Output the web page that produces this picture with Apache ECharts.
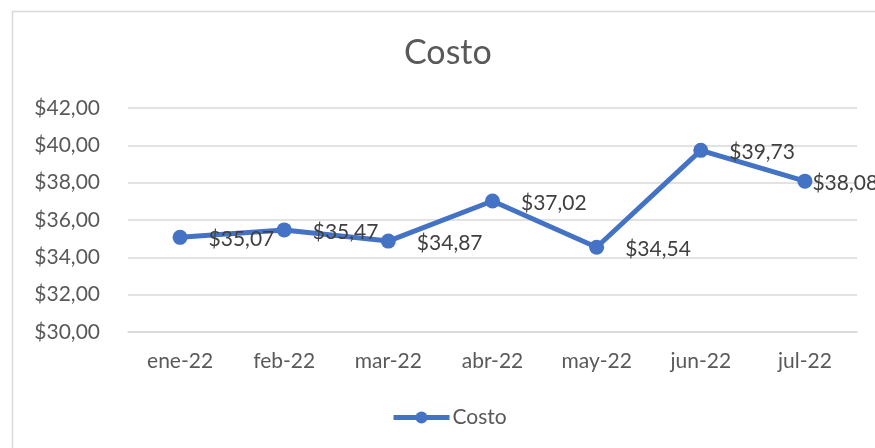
<!DOCTYPE html>
<html>
<head>
<meta charset="utf-8">
<script src="https://cdn.jsdelivr.net/npm/echarts@6/dist/echarts.min.js"></script>
<style>
  html, body { margin: 0; padding: 0; background: #fff; }
  #chart { width: 875px; height: 448px; }
</style>
</head>
<body>
<div id="chart"></div>
<script>
const months = ['ene-22', 'feb-22', 'mar-22', 'abr-22', 'may-22', 'jun-22', 'jul-22']
const costo = [35.07, 35.47, 34.87, 37.02, 34.54, 39.73, 38.08]
const yTicks = { min: 30, max: 42, step: 2 }

const font = 'Lato, "Open Sans", sans-serif'
const money = (v) => '$' + v.toFixed(2).replace('.', ',')

const chart = echarts.init(document.getElementById('chart'))

chart.setOption({
  backgroundColor: '#fff',
  animation: false,
  graphic: [{
    type: 'rect',
    left: 10, top: 9,
    shape: { width: 900, height: 460 },
    style: { fill: 'none', stroke: '#d9d9d9', lineWidth: 1.5 },
    silent: true,
  }],
  title: {
    text: 'Costo',
    left: 399,
    top: 31,
    textStyle: { color: '#595959', fontSize: 34, fontWeight: 'normal', fontFamily: font },
  },
  legend: {
    top: 402,
    left: 386,
    itemWidth: 56,
    itemHeight: 15,
    itemGap: 4,
    lineStyle: { width: 5 },
    textStyle: { color: '#595959', fontSize: 21, fontFamily: font, padding: [0, 0, 0, -2] },
    data: ['Costo'],
  },
  grid: { left: 128, right: 18, top: 108, bottom: 116 },
  xAxis: {
    type: 'category',
    data: months,
    boundaryGap: true,
    axisLine: { show: true, lineStyle: { color: '#d9d9d9', width: 1.5 } },
    axisTick: { show: false },
    axisLabel: { color: '#595959', fontSize: 21, fontFamily: font, margin: 19 },
  },
  yAxis: {
    type: 'value',
    min: yTicks.min,
    max: yTicks.max,
    interval: yTicks.step,
    axisLine: { show: false },
    axisTick: { show: false },
    splitLine: { lineStyle: { color: '#d9d9d9', width: 1.5 } },
    axisLabel: { color: '#595959', fontSize: 21, fontFamily: font, margin: 28, formatter: money },
  },
  series: [{
    name: 'Costo',
    type: 'line',
    data: costo.map((v, i) => i === costo.length - 1
      ? { value: v, label: { distance: 0 } }
      : v),
    lineStyle: { color: '#4472c4', width: 5 },
    itemStyle: { color: '#4472c4' },
    symbol: 'circle',
    symbolSize: 15,
    label: {
      show: true,
      position: 'right',
      distance: 21,
      offset: [0, 2],
      color: '#404040',
      fontSize: 21,
      fontFamily: font,
      formatter: (p) => money(p.value),
    },
  }],
})
</script>
</body>
</html>
